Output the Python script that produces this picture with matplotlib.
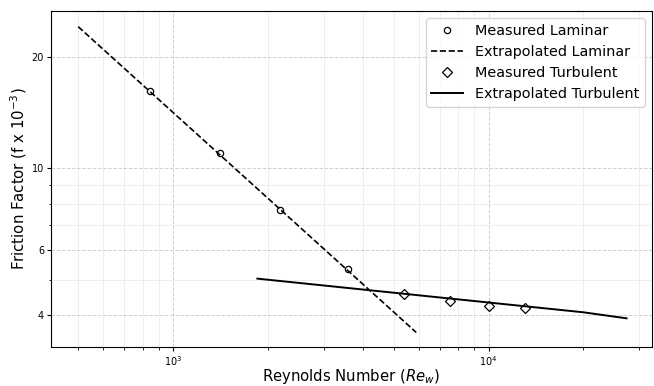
import matplotlib
matplotlib.use('Agg')
import matplotlib.pyplot as plt
import matplotlib.ticker as ticker

lam_re = [845, 1409, 2188, 3594]
lam_f = [16.2, 10.97, 7.71, 5.35]
lam_fit_re = [500, 5900]
lam_fit_f = [24.1, 3.6]

turb_re = [5410, 7570, 10040, 13010]
turb_f = [4.58, 4.38, 4.25, 4.20]
turb_fit_re = [1850, 20000, 27400]
turb_fit_f = [5.03, 4.08, 3.93]

yticks = [4, 6, 10, 20]

fig = plt.figure(figsize=(6.54, 3.86), dpi=100)
ax = fig.add_axes([0.078, 0.1, 0.919, 0.872])

ax.plot(lam_re, lam_f, 'o', mfc='none', mec='black', ms=4.5, mew=0.9, label='Measured Laminar')
ax.plot(lam_fit_re, lam_fit_f, '--', color='black', lw=1.2, label='Extrapolated Laminar')
ax.plot(turb_re, turb_f, 'D', mfc='none', mec='black', ms=5, mew=0.9, label='Measured Turbulent')
ax.plot(turb_fit_re, turb_fit_f, '-', color='black', lw=1.4, label='Extrapolated Turbulent')

ax.set_xscale('log')
ax.set_yscale('log')
ax.set_xlim(410, 33000)
ax.set_ylim(3.28, 26.6)

ax.yaxis.set_major_locator(ticker.FixedLocator(yticks))
ax.yaxis.set_major_formatter(ticker.ScalarFormatter())
ax.yaxis.set_minor_locator(ticker.FixedLocator([5, 7, 8, 9]))
ax.yaxis.set_minor_formatter(ticker.NullFormatter())

ax.tick_params(axis='both', which='major', labelsize=7, length=3, pad=2)
ax.tick_params(axis='both', which='minor', length=1.8)
ax.grid(True, which='major', linestyle='--', color='#d0d0d0', lw=0.7)
ax.grid(True, which='minor', linestyle='-', color='#ebebeb', lw=0.6)

ax.set_xlabel('Reynolds Number ($Re_w$)', fontsize=10.7, labelpad=-1)
ax.set_ylabel('Friction Factor (f x $10^{-3}$)', fontsize=10.7, labelpad=2)
ax.legend(loc='upper right', fontsize=10.4, handlelength=2.2, borderaxespad=0.5)

plt.savefig('out.png', dpi=100)
